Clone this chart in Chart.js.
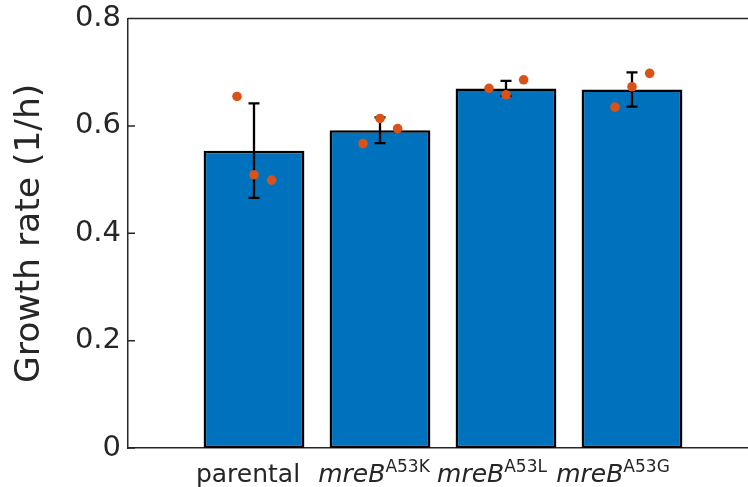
<!DOCTYPE html>
<html>
<head>
<meta charset="utf-8">
<script src="https://cdn.jsdelivr.net/npm/chart.js@4.4.0/dist/chart.umd.min.js"></script>
<style>
  html, body { margin: 0; padding: 0; background: #fff; overflow: hidden; }
  #wrap { width: 770px; height: 487px; }
</style>
</head>
<body>
<div id="wrap"><canvas id="grafico"></canvas></div>
<script>
// categorías y valores
const labelMain = ["parental", "mreB", "mreB", "mreB"];
const labelSup = ["", "A53K", "A53L", "A53G"];
const meanRate = [0.554, 0.592, 0.670, 0.668];
const errRate = [0.088, 0.024, 0.014, 0.032];
const rep1 = [0.655, 0.567, 0.670, 0.635];
const rep2 = [0.509, 0.614, 0.658, 0.673];
const rep3 = [0.499, 0.595, 0.686, 0.698];
const yTicks = [0, 0.2, 0.4, 0.6, 0.8];

const axisColor = "#262626";
const fontFam = "'DejaVu Sans', sans-serif";

const barData = meanRate.map((v, i) => ({ x: i + 1, y: v }));
const jitter = [-0.135, 0.0, 0.14];
let dots = [];
[rep1, rep2, rep3].forEach((rep, j) => {
    rep.forEach((v, i) => dots.push({ x: i + 1 + jitter[j], y: v }));
});

// barras de error, ticks hacia dentro, borde superior y etiquetas del eje x
const extras = {
    id: "extras",
    afterDatasetDraw(chart, args) {
        if (args.index !== 0) return;
        const ctx = chart.ctx;
        const xs = chart.scales.x, ys = chart.scales.y;
        ctx.save();
        ctx.strokeStyle = "#000";
        ctx.lineWidth = 2.3;
        meanRate.forEach((m, i) => {
            const px = xs.getPixelForValue(i + 1);
            const top = ys.getPixelForValue(m + errRate[i]);
            const bot = ys.getPixelForValue(m - errRate[i]);
            ctx.beginPath();
            ctx.moveTo(px, top); ctx.lineTo(px, bot);
            ctx.moveTo(px - 5.5, top); ctx.lineTo(px + 5.5, top);
            ctx.moveTo(px - 5.5, bot); ctx.lineTo(px + 5.5, bot);
            ctx.stroke();
        });
        ctx.restore();
    },
    afterDraw(chart) {
        const ctx = chart.ctx;
        const area = chart.chartArea;
        const xs = chart.scales.x, ys = chart.scales.y;
        ctx.save();
        ctx.strokeStyle = axisColor;
        ctx.lineWidth = 1.5;
        ctx.beginPath();
        ctx.moveTo(area.left, area.top);
        ctx.lineTo(area.right, area.top);
        yTicks.forEach(t => {
            const py = ys.getPixelForValue(t);
            ctx.moveTo(area.left, py);
            ctx.lineTo(area.left + 7, py);
        });
        ctx.stroke();

        // MATLAB no centra del todo las etiquetas con superíndice
        const nudge = [-6, -6, -14, -19];
        ctx.fillStyle = axisColor;
        ctx.textBaseline = "alphabetic";
        ctx.textAlign = "left";
        labelMain.forEach((txt, i) => {
            const mainFont = (labelSup[i] ? "italic " : "") + "25px " + fontFam;
            const supFont = "17px " + fontFam;
            ctx.font = mainFont;
            const w1 = ctx.measureText(txt).width;
            ctx.font = supFont;
            const w2 = labelSup[i] ? ctx.measureText(labelSup[i]).width : 0;
            const cx = xs.getPixelForValue(i + 1) + nudge[i];
            const x0 = cx - (w1 + w2) / 2;
            ctx.font = mainFont;
            ctx.fillText(txt, x0, 482);
            if (labelSup[i]) {
                ctx.font = supFont;
                ctx.fillText(labelSup[i], x0 + w1, 472);
            }
        });
        ctx.restore();
    }
};

const ctx = document.getElementById("grafico").getContext("2d");
new Chart(ctx, {
    data: {
        datasets: [
            {
                type: "bar",
                data: barData,
                backgroundColor: "#0072BD",
                borderColor: "#000000",
                borderWidth: 2.5,
                borderSkipped: false,
                barPercentage: 1,
                categoryPercentage: 0.8,
                order: 2
            },
            {
                type: "scatter",
                data: dots,
                backgroundColor: "#D95319",
                borderWidth: 0,
                pointRadius: 4.8,
                order: 1
            }
        ]
    },
    options: {
        responsive: true,
        maintainAspectRatio: false,
        animation: false,
        layout: { padding: { top: 18.5, right: 12, left: 0, bottom: 0 } },
        plugins: {
            legend: { display: false },
            tooltip: { enabled: false }
        },
        scales: {
            x: {
                type: "linear",
                min: 0,
                max: 5,
                offset: false,
                grid: { display: false, drawTicks: false, offset: false },
                border: { display: true, color: axisColor, width: 1.5 },
                ticks: { display: false, stepSize: 1 },
                afterFit(scale) { scale.height = 39; }
            },
            y: {
                min: 0,
                max: 0.8,
                afterBuildTicks(scale) { scale.ticks = yTicks.map(v => ({ value: v })); },
                grid: { display: false, drawTicks: false },
                border: { display: true, color: axisColor, width: 1.5 },
                ticks: {
                    color: axisColor,
                    padding: 7,
                    font: { family: fontFam, size: 29, lineHeight: 0.8 },
                    callback: v => v === 0 ? "0" : v.toFixed(1)
                },
                title: {
                    display: true,
                    text: "Growth rate (1/h)",
                    color: axisColor,
                    padding: { top: 9, bottom: 0 },
                    font: { family: fontFam, size: 34.5 }
                },
                afterFit(scale) { scale.width = 128; }
            }
        }
    },
    plugins: [extras]
});
</script>
</body>
</html>
